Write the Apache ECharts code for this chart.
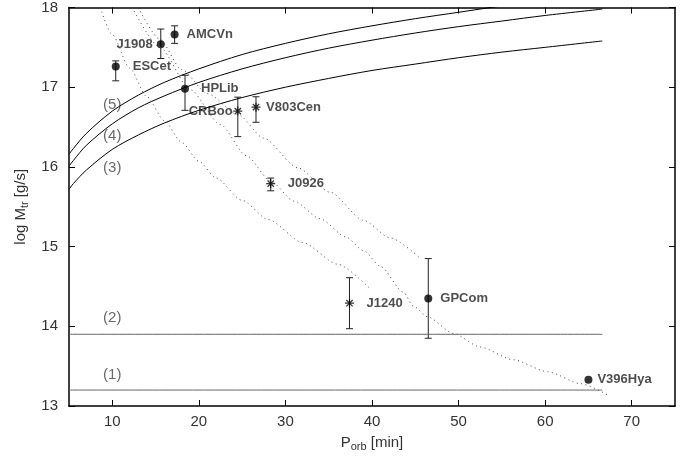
<!DOCTYPE html>
<html>
<head>
<meta charset="utf-8">
<title>log Mtr vs Porb</title>
<script src="https://cdn.jsdelivr.net/npm/echarts@6/dist/echarts.min.js"></script>
<style>
html, body { margin: 0; padding: 0; background: #fff; }
#chart { width: 693px; height: 461px; }
</style>
</head>
<body>
<div id="chart"></div>
<script>
// axis ticks
const xTicks = [10, 20, 30, 40, 50, 60, 70]

// solid curves (3), (4), (5)
const curveP = [5, 5.5, 7, 10, 13, 16, 20, 25, 30, 35, 40, 45, 50, 55, 60, 66.6]
const curve3L = [15.72, 15.79, 15.96, 16.22, 16.40, 16.55, 16.71, 16.87, 17.00, 17.11, 17.21, 17.29, 17.37, 17.44, 17.50, 17.58]
const curve4L = [16.01, 16.08, 16.27, 16.54, 16.74, 16.89, 17.06, 17.23, 17.37, 17.49, 17.59, 17.68, 17.76, 17.83, 17.90, 17.98]
const curve5L = [16.16, 16.23, 16.42, 16.70, 16.90, 17.06, 17.23, 17.41, 17.55, 17.67, 17.77, 17.86, 17.94, 18.02, 18.09, 18.17]

// horizontal limits (1) and (2)
const flatP = [5, 66.6]
const flat1L = [13.2, 13.2]
const flat2L = [13.9, 13.9]

// dotted tracks
const dotAP = [8.6, 10, 12, 14, 16, 18, 20, 22, 25, 28, 32, 36, 39.8]
const dotAL = [18.0, 17.66, 17.24, 16.88, 16.58, 16.31, 16.07, 15.86, 15.58, 15.34, 15.05, 14.78, 14.47]
const dotBP = [12.3, 15.5, 19.0, 22.5, 25.5, 28.3, 31.0, 34.0, 37.0, 39.0, 41.0, 43.6, 44.8, 46.4, 49.4, 52.5, 56.3, 60.3, 64.1, 67.2]
const dotBL = [18.0, 17.5, 16.97, 16.53, 16.14, 15.82, 15.57, 15.35, 15.12, 14.95, 14.75, 14.43, 14.25, 14.12, 13.91, 13.74, 13.58, 13.43, 13.28, 13.14]
const dotCP = [13.0, 15.5, 18.0, 21.0, 24.5, 27.5, 31.4, 35.2, 39.0, 42.1, 45.6]
const dotCL = [18.0, 17.6, 17.22, 16.92, 16.66, 16.36, 15.99, 15.68, 15.33, 15.11, 14.85]

// systems
const objNames = ['AMCVn', 'J1908', 'ESCet', 'HPLib', 'CRBoo', 'V803Cen', 'J0926', 'J1240', 'GPCom', 'V396Hya']
const objKind = ['dot', 'dot', 'dot', 'dot', 'star', 'star', 'star', 'star', 'dot', 'dot']
const objP = [17.2, 15.6, 10.4, 18.4, 24.5, 26.6, 28.3, 37.4, 46.5, 65.0]
const objL = [17.66, 17.54, 17.26, 16.98, 16.70, 16.75, 15.79, 14.29, 14.35, 13.33]
const objLo = [17.55, 17.36, 17.08, 16.71, 16.38, 16.56, 15.70, 13.97, 13.85, null]
const objHi = [17.77, 17.73, 17.33, 17.15, 16.875, 16.88, 15.86, 14.61, 14.85, null]

// curve tags
const tagText = ['(1)', '(2)', '(3)', '(4)', '(5)']
const tagP = [10, 10, 10, 10, 10]
const tagL = [13.39, 14.1, 15.99, 16.39, 16.775]

const FONT = 'Liberation Sans, Arial, sans-serif'
const STAR = 'path://M0,-10L0,10M-10,0L10,0M-7,-7L7,7M-7,7L7,-7'
const leftLabels = ['J1908', 'CRBoo']
const labelGap = { AMCVn: 8, J1908: 4, ESCet: 13, HPLib: 12, CRBoo: 0, V803Cen: 5, J0926: 12, J1240: 12, GPCom: 8, V396Hya: 5 }

const pairs = (xs, ys) => xs.map((x, i) => [x, ys[i]])

const solid = (data, color) => ({
  type: 'line',
  data,
  showSymbol: false,
  smooth: 0.3,
  lineStyle: { color, width: 1 },
  silent: true
})

const dotted = data => ({
  type: 'line',
  data,
  showSymbol: false,
  smooth: 0.25,
  smoothMonotone: 'x',
  lineStyle: { color: '#444', width: 1, type: [1, 3.5] },
  silent: true
})

const axisText = { fontFamily: FONT, fontSize: 15, color: '#333' }
const nameRich = {
  n: { ...axisText, lineHeight: 15, verticalAlign: 'top' },
  s: { fontFamily: FONT, fontSize: 11, color: '#333', lineHeight: 11, verticalAlign: 'top', padding: [6, 0, 0, 0] }
}

const chart = echarts.init(document.getElementById('chart'))

chart.setOption({
  animation: false,
  backgroundColor: '#fff',
  grid: { left: 69, right: 18, top: 6, bottom: 55 },
  xAxis: [{
    type: 'value', min: 5, max: 75,
    name: '{n|P}{s|orb}{n| [min]}',
    nameLocation: 'middle', nameGap: 29,
    nameTextStyle: { rich: nameRich },
    axisLine: { lineStyle: { color: '#000', width: 1.5 } },
    axisTick: { inside: true, length: 6, customValues: xTicks, lineStyle: { color: '#000' } },
    axisLabel: { customValues: xTicks, margin: 8, ...axisText },
    splitLine: { show: false }
  }, {
    type: 'value', min: 5, max: 75, position: 'top',
    axisLine: { lineStyle: { color: '#000', width: 1.5 } },
    axisTick: { inside: true, length: 6, customValues: xTicks, lineStyle: { color: '#000' } },
    axisLabel: { show: false },
    splitLine: { show: false }
  }],
  yAxis: [{
    type: 'value', min: 13, max: 18, interval: 1,
    name: '{n|log M}{s|tr}{n| [g/s]}',
    nameLocation: 'middle', nameGap: 38,
    nameTextStyle: { rich: nameRich },
    axisLine: { lineStyle: { color: '#000', width: 1.5 } },
    axisTick: { inside: true, length: 6, lineStyle: { color: '#000' } },
    axisLabel: { margin: 11, ...axisText },
    splitLine: { show: false }
  }, {
    type: 'value', min: 13, max: 18, interval: 1, position: 'right',
    axisLine: { lineStyle: { color: '#000', width: 1.5 } },
    axisTick: { inside: true, length: 6, lineStyle: { color: '#000' } },
    axisLabel: { show: false },
    splitLine: { show: false }
  }],
  series: [
    solid(pairs(curveP, curve3L), '#000'),
    solid(pairs(curveP, curve4L), '#000'),
    solid(pairs(curveP, curve5L), '#000'),
    solid(pairs(flatP, flat1L), '#666'),
    solid(pairs(flatP, flat2L), '#666'),
    dotted(pairs(dotAP, dotAL)),
    dotted(pairs(dotBP, dotBL)),
    dotted(pairs(dotCP, dotCL)),
    {
      type: 'custom',
      silent: true,
      data: objP.map((p, i) => [p, objLo[i], objHi[i]]).filter(d => d[1] != null),
      renderItem: (params, api) => {
        const x = api.value(0)
        const lo = api.coord([x, api.value(1)])
        const hi = api.coord([x, api.value(2)])
        const w = 3.5
        const style = { stroke: '#222', lineWidth: 1 }
        return {
          type: 'group',
          children: [
            { type: 'line', shape: { x1: lo[0], y1: lo[1], x2: hi[0], y2: hi[1] }, style },
            { type: 'line', shape: { x1: lo[0] - w, y1: lo[1], x2: lo[0] + w, y2: lo[1] }, style },
            { type: 'line', shape: { x1: hi[0] - w, y1: hi[1], x2: hi[0] + w, y2: hi[1] }, style }
          ]
        }
      }
    },
    {
      type: 'scatter',
      silent: true,
      data: objNames.map((name, i) => {
        const star = objKind[i] === 'star'
        return {
          name,
          value: [objP[i], objL[i]],
          symbol: star ? STAR : 'circle',
          symbolSize: star ? 9 : 8,
          symbolKeepAspect: true,
          itemStyle: star
            ? { color: 'rgba(0,0,0,0)', borderColor: '#000', borderWidth: 1.2 }
            : { color: '#000' },
          label: {
            position: leftLabels.includes(name) ? 'left' : 'right',
            distance: labelGap[name]
          }
        }
      }),
      label: {
        show: true,
        formatter: '{b}',
        fontFamily: FONT,
        fontSize: 13,
        fontWeight: 'bold',
        color: '#222'
      }
    },
    {
      type: 'scatter',
      silent: true,
      symbolSize: 1,
      itemStyle: { color: 'rgba(0,0,0,0)' },
      data: tagText.map((t, i) => ({ name: t, value: [tagP[i], tagL[i]] })),
      label: {
        show: true,
        position: 'inside',
        formatter: '{b}',
        fontFamily: FONT,
        fontSize: 15,
        color: '#444'
      }
    }
  ]
})
</script>
</body>
</html>
